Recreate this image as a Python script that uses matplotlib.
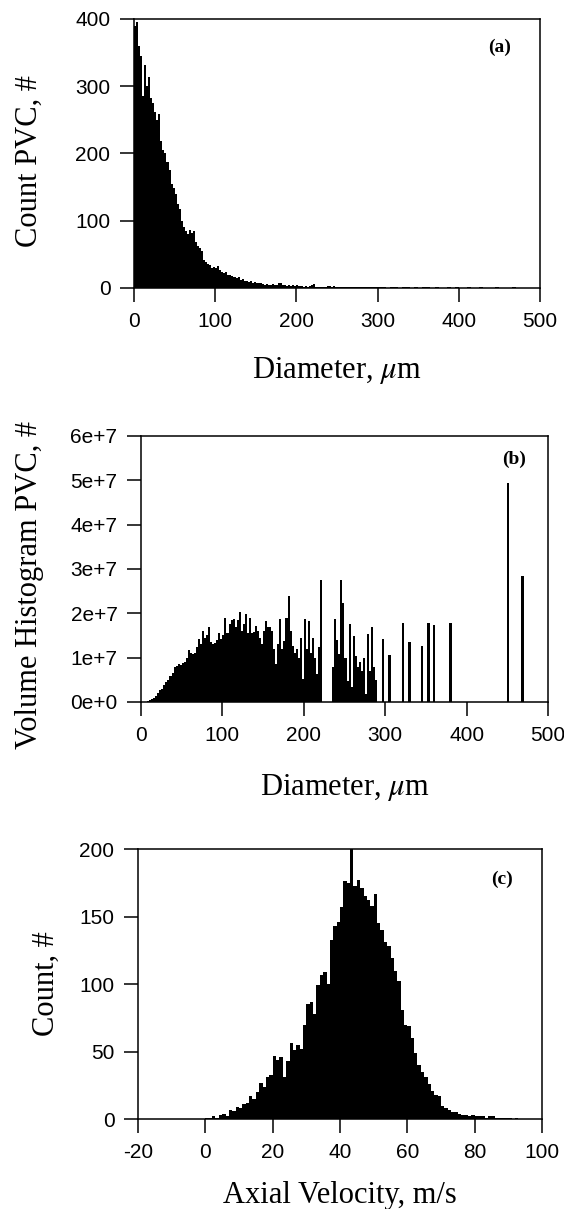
import numpy as np
import matplotlib.pyplot as plt
from matplotlib.ticker import FuncFormatter

plt.rcParams['font.family'] = 'Liberation Sans'
plt.rcParams['mathtext.fontset'] = 'stix'
plt.rcParams['axes.unicode_minus'] = False

# (a) PVC count vs diameter: 2.5 um bins from 0 to 250, then 5 um bins to 500
binA = 2.5
countA = [390, 396, 360, 345, 285, 332, 300, 314, 282, 275,
          262, 250, 258, 218, 205, 200, 188, 175, 155, 148,
          140, 125, 118, 100, 90, 85, 80, 86, 82, 84,
          68, 62, 60, 55, 42, 38, 36, 34, 30, 31,
          29, 32, 26, 24, 22, 24, 20, 19, 18, 17,
          15, 16, 12, 14, 11, 10, 9, 10, 8, 9,
          8, 7, 8, 6, 5, 6, 4, 5, 6, 4,
          5, 7, 8, 5, 4, 3, 4, 3, 4, 3,
          4, 3, 3, 2, 3, 2, 3, 5, 6, 2,
          1, 1, 1, 2, 2, 3, 3, 2, 3, 2]
tailA_start = 250
binA_tail = 5.0
countA_tail = [2, 2, 1, 2, 1, 2, 1, 1, 2, 1,
               1, 1, 0, 1, 1, 0, 1, 1, 0, 1,
               0, 1, 1, 0, 1, 0, 0, 1, 0, 1,
               0, 0, 1, 0, 0, 1, 0, 0, 0, 1,
               0, 0, 0, 1, 0, 0, 0, 0, 0, 0]

# (b) volume histogram, in units of 1e7, 2.5 um bins from 0
binB = 2.5
volB = [0.0, 0.0, 0.01, 0.02, 0.04, 0.07, 0.1, 0.14, 0.2, 0.26,
        0.3, 0.38, 0.45, 0.5, 0.58, 0.65, 0.78, 0.8, 0.85, 0.84,
        0.88, 0.9, 1.0, 1.18, 1.1, 1.08, 1.1, 1.25, 1.42, 1.3,
        1.6, 1.45, 1.5, 1.68, 1.35, 1.3, 1.34, 1.4, 1.55, 1.42,
        1.5, 1.9, 1.55, 1.75, 1.85, 1.87, 1.7, 1.85, 2.03, 1.6,
        1.75, 1.99, 1.55, 1.9, 1.55, 1.57, 1.72, 1.6, 1.45, 1.3,
        1.6, 1.83, 1.7, 1.68, 1.59, 1.2, 0.85, 1.3, 1.87, 1.2,
        1.38, 1.9, 2.39, 1.6, 1.27, 1.1, 1.19, 1.0, 1.45, 0.52,
        1.87, 1.2, 1.83, 1.1, 1.45, 1.0, 0.63, 1.23, 2.76, 0,
        0, 0, 0, 0, 0.78, 1.88, 1.4, 1.08, 2.74, 2.24,
        1.0, 0.48, 1.75, 0.33, 1.49, 1.04, 0.78, 0.9, 0.7, 1.0,
        0.18, 1.54, 0.7, 1.68, 0.78, 0.5]
spikeB_d = [297.5, 305, 322, 330, 345, 353, 360, 380, 451, 469]
spikeB_v = [1.42, 1.06, 1.78, 1.36, 1.27, 1.77, 1.74, 1.77, 4.94, 2.85]

# (c) axial velocity count, 1 m/s bins starting at -1 m/s
binC = 1.0
startC = -1
countC = [0, 1, 1, 2, 1, 3, 4, 2, 7, 6,
          9, 8, 11, 12, 17, 15, 20, 27, 24, 31,
          33, 47, 44, 46, 31, 43, 56, 51, 55, 52,
          70, 85, 87, 78, 99, 107, 109, 100, 133, 143,
          146, 157, 176, 175, 200, 173, 177, 171, 165, 162,
          158, 167, 145, 140, 131, 128, 119, 110, 102, 81,
          70, 69, 60, 49, 40, 35, 31, 26, 21, 18,
          17, 10, 8, 7, 5, 5, 4, 3, 3, 2,
          3, 2, 2, 2, 1, 2, 2, 1, 1, 1,
          1, 1, 0, 1]

fig = plt.figure(figsize=(5.64, 12.09), dpi=100)
axA = fig.add_axes([0.2376, 0.7618, 0.720, 0.2225])
axB = fig.add_axes([0.2500, 0.4194, 0.7216, 0.2200])
axC = fig.add_axes([0.2447, 0.0744, 0.7163, 0.2233])

serif = dict(family='Liberation Serif', fontsize=22)
tag = dict(family='Liberation Serif', fontsize=14, weight='bold', ha='center', va='center')


def style(ax):
    for s in ax.spines.values():
        s.set_linewidth(1.1)
    ax.tick_params(direction='out', length=10, width=1.1, labelsize=15,
                   top=False, right=False, pad=7)


# panel (a)
edgesA = np.arange(len(countA) + 1) * binA
axA.stairs(countA, edgesA, fill=True, color='black')
edgesA2 = tailA_start + np.arange(len(countA_tail) + 1) * binA_tail
axA.stairs(countA_tail, edgesA2, fill=True, color='black')
axA.set_xlim(0, 500)
axA.set_ylim(0, 400)
axA.set_xticks(np.arange(0, 501, 100))
axA.set_yticks(np.arange(0, 401, 100))
axA.set_xlabel(r'Diameter, $\mu$m', **serif)
axA.set_ylabel('Count PVC, #', **serif)
axA.xaxis.set_label_coords(0.5, -0.25)
axA.yaxis.set_label_coords(-0.222, 0.47)
axA.text(0.90, 0.896, '(a)', transform=axA.transAxes, **tag)
style(axA)

# panel (b)
edgesB = np.arange(len(volB) + 1) * binB
axB.stairs(np.array(volB) * 1e7, edgesB, fill=True, color='black')
axB.bar(spikeB_d, np.array(spikeB_v) * 1e7, width=3.2, color='black', linewidth=0)
axB.set_xlim(0, 500)
axB.set_ylim(0, 6e7)
axB.set_xticks(np.arange(0, 501, 100))
axB.set_yticks(np.arange(0, 7) * 1e7)
axB.yaxis.set_major_formatter(FuncFormatter(lambda v, p: '%de+%d' % (round(v / 1e7), 0 if v == 0 else 7)))
axB.set_xlabel(r'Diameter, $\mu$m', **serif)
axB.set_ylabel('Volume Histogram PVC, #', **serif)
axB.xaxis.set_label_coords(0.5, -0.265)
axB.yaxis.set_label_coords(-0.238, 0.44)
axB.text(0.916, 0.913, '(b)', transform=axB.transAxes, **tag)
style(axB)

# panel (c)
edgesC = startC + np.arange(len(countC) + 1) * binC
axC.stairs(countC, edgesC, fill=True, color='black')
axC.set_xlim(-20, 100)
axC.set_ylim(0, 200)
axC.set_xticks(np.arange(-20, 101, 20))
axC.set_yticks(np.arange(0, 201, 50))
axC.set_xlabel('Axial Velocity, m/s', **serif)
axC.set_ylabel('Count, #', **serif)
axC.xaxis.set_label_coords(0.5, -0.23)
axC.yaxis.set_label_coords(-0.19, 0.5)
axC.text(0.90, 0.889, '(c)', transform=axC.transAxes, **tag)
style(axC)

plt.savefig('out.png', dpi=100)
